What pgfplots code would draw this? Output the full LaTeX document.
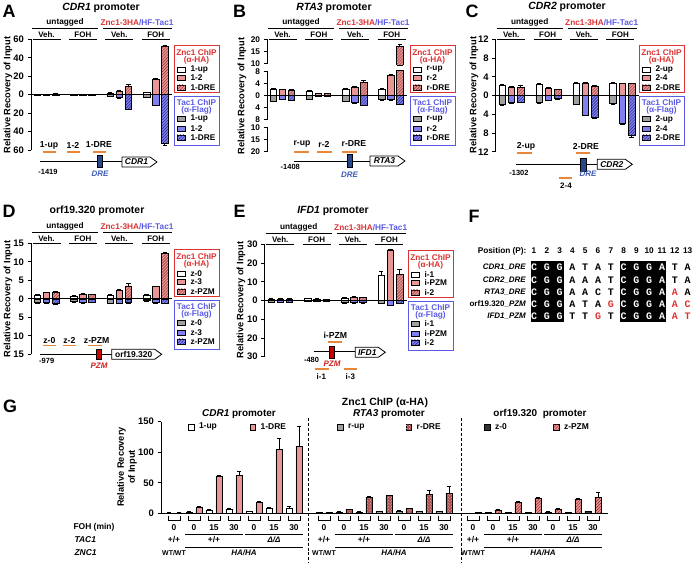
\documentclass[border=0pt]{standalone}
\usepackage{fontspec}
\setmainfont{Liberation Sans}
\newfontfamily\seqfont{Liberation Mono}
\usepackage{pgfplots}
\pgfplotsset{compat=1.18}
\usetikzlibrary{patterns}

\definecolor{pinkc}{RGB}{232,150,150}
\definecolor{hatchred}{RGB}{140,40,40}
\definecolor{grayc}{RGB}{160,160,160}
\definecolor{bluec}{RGB}{128,128,240}
\definecolor{hatchblue}{RGB}{30,30,120}
\definecolor{redtxt}{RGB}{220,50,50}
\definecolor{bluetxt}{RGB}{90,90,230}
\definecolor{orangec}{RGB}{230,135,60}
\definecolor{drebox}{RGB}{40,70,140}
\definecolor{dretxt}{RGB}{60,90,180}
\definecolor{pzmbox}{RGB}{200,0,0}
\definecolor{pzmtxt}{RGB}{210,30,30}
\definecolor{darkc}{RGB}{50,50,50}
\colorlet{W}{white}\colorlet{K}{black}\colorlet{R}{redtxt}

\newcommand{\fs}[1]{\fontsize{#1}{#1}\selectfont}

\tikzset{
 zup/.style={fill=white,draw=black,/pgf/bar shift=0pt},
 ztwo/.style={fill=pinkc,draw=black,/pgf/bar shift=0pt},
 zdre/.style={fill=pinkc,draw=black,postaction={pattern=north east lines,pattern color=hatchred},/pgf/bar shift=0pt},
 tup/.style={fill=grayc,draw=black,/pgf/bar shift=0pt},
 ttwo/.style={fill=bluec,draw=black,/pgf/bar shift=0pt},
 tdre/.style={fill=bluec,draw=black,postaction={pattern=north east lines,pattern color=hatchblue},/pgf/bar shift=0pt},
 rdre/.style={fill=hatchred!65!pinkc,draw=black,postaction={pattern=crosshatch dots,pattern color=pinkc!60!white},/pgf/bar shift=0pt},
 zdark/.style={fill=darkc,draw=black,/pgf/bar shift=0pt},
}
\pgfplotsset{
 EP/.style={error bars/y dir=plus,error bars/y explicit},
 EM/.style={error bars/y dir=minus,error bars/y explicit},
 panel/.style={scale only axis, anchor=south west, xmin=-0.7, xmax=14.8,
  axis x line=none, axis y line*=left, axis line style={-,line width=0.8pt},
  ybar, bar width=0.72, clip=false, tick align=outside, major tick length=3.5bp,
  ytick style={line width=0.8pt,black},
  yticklabel style={font=\bfseries\fs{9.5}},
  every axis plot/.append style={line width=0.6pt},
  error bars/error bar style={line width=0.7pt,black,solid},
  error bars/error mark options={rotate=90,mark size=2.2,line width=0.7pt,black},
 },
}

\newcommand{\hdr}[2]{%
 \node[font=\bfseries\fs{8.3}] at (#1+34,#2-16.5) {untagged};
 \draw[line width=0.8pt] (#1+1,#2-11) -- (#1+67,#2-11);
 \node[font=\bfseries\fs{8.3}] at (#1+106,#2-16.5) {\textcolor{redtxt}{Znc1-3HA}\textcolor{bluetxt}{/HF-Tac1}};
 \draw[line width=0.8pt] (#1+72,#2-11) -- (#1+141,#2-11);
 \foreach \gx/\gt in {15.5/Veh.,51.9/FOH,88.3/Veh.,124.7/FOH}{
   \node[font=\bfseries\fs{8}] at (#1+\gx,#2-5) {\gt};
   \draw[line width=0.8pt] (#1+\gx-14,#2) -- (#1+\gx+14,#2);
 }
}
\newcommand{\lgd}[5]{%
 \draw[redtxt,line width=0.9pt] (#1+143,#2+5.7) rectangle (#1+188,#2+52.7);
 \node[redtxt,font=\bfseries\fs{8.3}] at (#1+165.5,#2+13.2) {Znc1 ChIP};
 \node[redtxt,font=\bfseries\fs{8.3}] at (#1+165.5,#2+21.5) {(α-HA)};
 \draw[zup] (#1+146,#2+27.5) rectangle (#1+154,#2+32.5);
 \node[anchor=west,font=\bfseries\fs{8.3}] at (#1+156,#2+30) {#3};
 \draw[ztwo] (#1+146,#2+36) rectangle (#1+154,#2+41);
 \node[anchor=west,font=\bfseries\fs{8.3}] at (#1+156,#2+38.5) {#4};
 \draw[zdre] (#1+146,#2+45.5) rectangle (#1+154,#2+50.5);
 \node[anchor=west,font=\bfseries\fs{8.3}] at (#1+156,#2+48) {#5};
 \draw[bluetxt,line width=0.9pt] (#1+143,#2+57.4) rectangle (#1+188,#2+105.7);
 \node[bluetxt,font=\bfseries\fs{8.3}] at (#1+165.5,#2+63) {Tac1 ChIP};
 \node[bluetxt,font=\bfseries\fs{8.3}] at (#1+165.5,#2+71.2) {(α-Flag)};
 \draw[tup] (#1+146,#2+77.2) rectangle (#1+154,#2+82.2);
 \node[anchor=west,font=\bfseries\fs{8.3}] at (#1+156,#2+79.7) {#3};
 \draw[ttwo] (#1+146,#2+86.5) rectangle (#1+154,#2+91.5);
 \node[anchor=west,font=\bfseries\fs{8.3}] at (#1+156,#2+89) {#4};
 \draw[tdre] (#1+146,#2+95.5) rectangle (#1+154,#2+100.5);
 \node[anchor=west,font=\bfseries\fs{8.3}] at (#1+156,#2+98) {#5};
}
\newcommand{\ylab}[2]{\node[rotate=90,font=\bfseries\fs{9.3}] at (#1,#2) {Relative Recovery of Input};}
\newcommand{\gene}[5]{% x1 x2 ytop ybot label
 \draw[fill=white,line width=0.8pt] (#1,#3) -- (#2-7,#3) -- (#2,{(#3+#4)/2}) -- (#2-7,#4) -- (#1,#4) -- cycle;
 \node[font=\bfseries\fs{8.5}] at ({(#1+#2)/2-3},{(#3+#4)/2}) {#5};
}
\newcommand{\oseg}[3]{\draw[orangec,line width=2pt] (#1,#3) -- (#2,#3);}
\newcommand{\gfoot}[1]{% section base center
 \foreach \k in {0,...,6}{\draw[line width=0.7pt] ({#1+20*\k-6},515.5) -- ({#1+20*\k-6},520.5) -- ({#1+20*\k+6},520.5) -- ({#1+20*\k+6},515.5);}
 \foreach \dx/\lab in {0/0,20/0,40/15,60/30,80/0,100/15,120/30}{\node[font=\bfseries\fs{8.5}] at (#1+\dx,527.7) {\lab};}
 \node[font=\bfseries\fs{8.5}] at (#1,540) {+/+};
 \draw[line width=0.7pt] (#1+11,534.3) -- (#1+69,534.3);
 \node[font=\bfseries\fs{8.5}] at (#1+40,540) {+/+};
 \draw[line width=0.7pt] (#1+71,534.3) -- (#1+129,534.3);
 \node[font=\bfseries\itshape\fs{8}] at (#1+100,540) {Δ/Δ};
 \node[font=\bfseries\fs{7}] at (#1,553) {WT/WT};
 \draw[line width=0.7pt] (#1+11,547.7) -- (#1+129,547.7);
 \node[font=\bfseries\itshape\fs{8}] at (#1+70,553) {HA/HA};
}

\begin{document}
\begin{tikzpicture}[font=\bfseries\fs{8}]
\path[use as bounding box] (0,0) rectangle (696bp,-566bp);

%% ---------------- Panel A
\begin{axis}[panel, at={(31bp,-150bp)}, width=141bp, height=110.7bp, ymin=-60, ymax=60,
 ytick={-60,-40,-20,0,20,40,60}, yticklabels={60,40,20,0,20,40,60}]
\addplot[zup,EP] coordinates {(0,0.6)+-(0,0.2) (4,0.4)+-(0,0.1) (8,1.8)+-(0,0.3) (12,2.5)+-(0,0.4)};
\addplot[ztwo,EP] coordinates {(1,0.6)+-(0,0.2) (5,0.4)+-(0,0.1) (9,4)+-(0,0.5) (13,17)+-(0,0.5)};
\addplot[zdre,EP] coordinates {(2,0.7)+-(0,0.2) (6,0.5)+-(0,0.1) (10,9)+-(0,2.5) (14,52)+-(0,1.5)};
\addplot[tup,EM] coordinates {(0,-0.6)+-(0,0.2) (4,-0.4)+-(0,0.1) (8,-1.8)+-(0,0.3) (12,-2.5)+-(0,0.4)};
\addplot[ttwo,EM] coordinates {(1,-0.6)+-(0,0.2) (5,-0.4)+-(0,0.1) (9,-3)+-(0,0.5) (13,-11.5)+-(0,0.5)};
\addplot[tdre,EM] coordinates {(2,-0.7)+-(0,0.2) (6,-0.5)+-(0,0.1) (10,-15.5)+-(0,0.5) (14,-53)+-(0,2)};
\draw[line width=0.8pt] (axis cs:-0.7,0) -- (axis cs:14.8,0);
\end{axis}

%% ---------------- Panel B (broken axis: t=v for |v|<=8, else 10.5+0.8(|v|-10))
\begin{axis}[panel, at={(267bp,-151.7bp)}, width=140bp, height=112.4bp, ymin=-18.5, ymax=18.5,
 y axis line style={draw=none},
 yticklabel style={font=\bfseries\fs{8.3},inner ysep=0pt},
 ytick={-18.5,-14.5,-10.5,-8,-4,0,4,8,10.5,14.5,18.5}, yticklabels={20,15,10,8,4,0,4,8,10,15,20}]
\addplot[zup,EP] coordinates {(0,2)+-(0,0.2) (4,1.4)+-(0,0.2) (8,2.2)+-(0,0.2) (12,2)+-(0,0.2)};
\addplot[ztwo,EP] coordinates {(1,1.9)+-(0,0.2) (5,0.6)+-(0,0.1) (9,2.8)+-(0,0.3) (13,6.8)+-(0,0.3)};
\addplot[zdre,EP] coordinates {(2,1.7)+-(0,0.2) (6,0.6)+-(0,0.1) (10,4.2)+-(0,0.8) (14,16.1)+-(0,0.8)};
\addplot[tup,EM] coordinates {(0,-1.8)+-(0,0.2) (4,-1.3)+-(0,0.1) (8,-1.8)+-(0,0.2) (12,-1.3)+-(0,0.2)};
\addplot[ttwo,EM] coordinates {(1,-1.2)+-(0,0.2) (5,-0.3)+-(0,0.1) (9,-2.3)+-(0,0.2) (13,-1.3)+-(0,0.2)};
\addplot[tdre,EM] coordinates {(2,-1.5)+-(0,0.2) (6,-0.3)+-(0,0.1) (10,-3.2)+-(0,0.2) (14,-2.8)+-(0,0.2)};
\fill[white] (axis cs:13.55,8.4) rectangle (axis cs:14.45,10.1);
\draw[line width=0.6pt] (axis cs:13.64,8.4) -- (axis cs:14.36,8.4) (axis cs:13.64,10.1) -- (axis cs:14.36,10.1);
\draw[line width=0.8pt] (axis cs:-0.7,-18.5) -- (axis cs:-0.7,-10.5) (axis cs:-0.7,-8) -- (axis cs:-0.7,8) (axis cs:-0.7,10.5) -- (axis cs:-0.7,18.5);
\draw[line width=0.8pt] (axis cs:-0.7,0) -- (axis cs:14.8,0);
\end{axis}

%% ---------------- Panel C
\begin{axis}[panel, at={(495.7bp,-151.7bp)}, width=143.3bp, height=112.4bp, ymin=-12, ymax=12,
 ytick={-12,-8,-4,0,4,8,12}, yticklabels={12,8,4,0,4,8,12}]
\addplot[zup,EP] coordinates {(0,2.2)+-(0,0.2) (4,2.3)+-(0,0.2) (8,2.7)+-(0,0.2) (12,2.7)+-(0,0.2)};
\addplot[ztwo,EP] coordinates {(1,1.8)+-(0,0.2) (5,1.6)+-(0,0.1) (9,2.6)+-(0,0.2) (13,2.5)+-(0,0.1)};
\addplot[zdre,EP] coordinates {(2,1.8)+-(0,0.3) (6,1.3)+-(0,0.1) (10,2.0)+-(0,0.1) (14,2.5)+-(0,0.2)};
\addplot[tup,EM] coordinates {(0,-1.8)+-(0,0.2) (4,-1.5)+-(0,0.2) (8,-1.8)+-(0,0.1) (12,-1.7)+-(0,0.1)};
\addplot[ttwo,EM] coordinates {(1,-1.5)+-(0,0.1) (5,-1.0)+-(0,0.1) (9,-4.2)+-(0,0.1) (13,-6.0)+-(0,0.1)};
\addplot[tdre,EM] coordinates {(2,-1.4)+-(0,0.1) (6,-0.7)+-(0,0.1) (10,-4.6)+-(0,0.2) (14,-8.6)+-(0,0.3)};
\draw[line width=0.8pt] (axis cs:-0.7,0) -- (axis cs:14.8,0);
\end{axis}

%% ---------------- Panel D
\begin{axis}[panel, at={(31bp,-354.3bp)}, width=141bp, height=111bp, ymin=-15, ymax=15,
 ytick={-15,-10,-5,0,5,10,15}, yticklabels={15,10,5,0,5,10,15}]
\addplot[zup,EP] coordinates {(0,1.0)+-(0,0.1) (4,0.8)+-(0,0.1) (8,1.0)+-(0,0.1) (12,1.0)+-(0,0.1)};
\addplot[ztwo,EP] coordinates {(1,1.7)+-(0,0.1) (5,1.3)+-(0,0.1) (9,2.3)+-(0,0.2) (13,3.3)+-(0,0.2)};
\addplot[zdre,EP] coordinates {(2,1.8)+-(0,0.3) (6,1.2)+-(0,0.1) (10,3.5)+-(0,0.7) (14,12.3)+-(0,0.2)};
\addplot[tup,EM] coordinates {(0,-1.0)+-(0,0.1) (4,-0.8)+-(0,0.1) (8,-1.2)+-(0,0.1) (12,-0.5)+-(0,0.1)};
\addplot[ttwo,EM] coordinates {(1,-1.0)+-(0,0.1) (5,-1.0)+-(0,0.1) (9,-1.1)+-(0,0.1) (13,-1.0)+-(0,0.1)};
\addplot[tdre,EM] coordinates {(2,-1.3)+-(0,0.1) (6,-0.9)+-(0,0.1) (10,-1.0)+-(0,0.1) (14,-1.2)+-(0,0.1)};
\draw[line width=0.8pt] (axis cs:-0.7,0) -- (axis cs:14.8,0);
\end{axis}

%% ---------------- Panel E
\begin{axis}[panel, at={(264.7bp,-356.7bp)}, width=142.3bp, height=112.4bp, ymin=-30, ymax=30,
 ytick={-30,-20,-10,0,10,20,30}, yticklabels={30,20,10,0,10,20,30}]
\addplot[zup,EP] coordinates {(0,0.8)+-(0,0.1) (4,1.0)+-(0,0.1) (8,1.3)+-(0,0.2) (12,13.5)+-(0,2)};
\addplot[ztwo,EP] coordinates {(1,0.8)+-(0,0.1) (5,0.8)+-(0,0.1) (9,1.8)+-(0,0.3) (13,27)+-(0,0.3)};
\addplot[zdre,EP] coordinates {(2,0.8)+-(0,0.1) (6,0.6)+-(0,0.1) (10,1.5)+-(0,0.2) (14,14)+-(0,2.5)};
\addplot[tup,EM] coordinates {(0,-0.8)+-(0,0.1) (4,-0.5)+-(0,0.1) (8,-1.2)+-(0,0.1) (12,-1.5)+-(0,0.1)};
\addplot[ttwo,EM] coordinates {(1,-0.8)+-(0,0.1) (5,-0.5)+-(0,0.1) (9,-1.2)+-(0,0.1) (13,-2.5)+-(0,0.1)};
\addplot[tdre,EM] coordinates {(2,-0.8)+-(0,0.1) (6,-0.5)+-(0,0.1) (10,-1.2)+-(0,0.1) (14,-1.5)+-(0,0.1)};
\draw[line width=0.8pt] (axis cs:-0.7,0) -- (axis cs:14.8,0);
\end{axis}

%% ---------------- Panel G
\begin{axis}[scale only axis, anchor=south west, at={(161bp,-513.3bp)}, width=447bp, height=91.6bp,
 xmin=161, xmax=608, ymin=0, ymax=150, axis x line*=bottom, axis y line*=left,
 axis line style={-,line width=0.8pt}, xtick=\empty, ytick={0,50,100,150}, yticklabels={0,50,100,150},
 tick align=outside, major tick length=3.5bp, ytick style={line width=0.8pt,black},
 yticklabel style={font=\bfseries\fs{9.5}},
 ybar, bar width=6.3, clip=false,
 every axis plot/.append style={line width=0.6pt},
 error bars/error bar style={line width=0.7pt,black,solid},
 error bars/error mark options={rotate=90,mark size=2.2,line width=0.7pt,black}]
\addplot[zup,EP] coordinates {(169,0.5)+-(0,0.3) (189,2)+-(0,0.5) (209,5)+-(0,0.8) (229,7)+-(0,1) (249,3)+-(0,0.5) (269,8)+-(0,1) (289,9)+-(0,2.5)};
\addplot[ztwo,EP] coordinates {(179,0.8)+-(0,0.3) (199,10)+-(0,1) (219,60)+-(0,2) (239,62)+-(0,6) (259,18)+-(0,1) (279,105)+-(0,18) (299,110)+-(0,32)};
\addplot[tup,EP] coordinates {(319,1)+-(0,0.3) (339,2)+-(0,0.5) (359,2)+-(0,0.5) (379,3)+-(0,0.5) (399,4)+-(0,0.5) (419,3)+-(0,0.5) (439,3)+-(0,0.5)};
\addplot[rdre,EP] coordinates {(329,1)+-(0,0.3) (349,6.5)+-(0,0.8) (369,26)+-(0,1) (389,29)+-(0,1) (409,7.6)+-(0,1) (429,31)+-(0,7) (449,33)+-(0,11)};
\addplot[zdark,EP] coordinates {(468,0.5)+-(0,0.2) (488,1)+-(0,0.3) (508,1)+-(0,0.3) (528,1)+-(0,0.3) (548,2)+-(0,0.5) (568,1)+-(0,0.3) (588,3)+-(0,0.5)};
\addplot[zdre,EP] coordinates {(478,1)+-(0,0.3) (498,5.5)+-(0,0.8) (518,18.5)+-(0,1) (538,24.5)+-(0,1.5) (558,7)+-(0,1) (578,23)+-(0,2) (598,26)+-(0,9)};
\end{axis}

%% ---------------- annotations in pixel coordinates
\begin{scope}[x=1bp,y=-1bp]
% panel letters
\foreach \lx/\ly/\lt in {9/11.5/A,239.5/11.5/B,472/11.5/C,9/211.5/D,239.5/211.7/E,474/216.7/F,10/406.7/G}{
  \node[font=\bfseries\fs{18}] at (\lx,\ly) {\lt};}
% titles
\node[font=\bfseries\fs{10.5}] at (101,7.5) {\textit{CDR1} promoter};
\node[font=\bfseries\fs{10.5}] at (334,7.5) {\textit{RTA3} promoter};
\node[font=\bfseries\fs{10.5}] at (567,7) {\textit{CDR2} promoter};
\node[font=\bfseries\fs{10.5}] at (97,210.5) {orf19.320 promoter};
\node[font=\bfseries\fs{10.5}] at (333,210.5) {\textit{IFD1} promoter};
% headers, legends, y labels
\hdr{31}{39.3}\hdr{267}{39.3}\hdr{495.7}{39.3}\hdr{31}{243.3}\hdr{264.7}{244.3}
\lgd{31}{39.3}{1-up}{1-2}{1-DRE}
\lgd{267}{39.3}{r-up}{r-2}{r-DRE}
\lgd{496}{39.3}{2-up}{2-4}{2-DRE}
\lgd{31}{243.3}{z-0}{z-3}{z-PZM}
\lgd{265}{244.3}{i-1}{i-PZM}{i-2}
\ylab{8}{95}\ylab{242}{96}\ylab{474}{95}\ylab{8}{299}\ylab{241}{300}

% diagram A
\node[font=\bfseries\fs{8.7}] at (49,145) {1-up};
\node[font=\bfseries\fs{8.7}] at (73,145) {1-2};
\node[font=\bfseries\fs{8.7}] at (99,145) {1-DRE};
\oseg{43}{56}{151.7}\oseg{67}{80}{151.7}\oseg{93}{106}{151.7}
\draw[line width=0.8pt] (40,161.7) -- (122,161.7);
\draw[fill=drebox,line width=0.6pt] (97,155.5) rectangle (102,167.5);
\gene{122}{157}{157}{167}{\textit{CDR1}}
\node[font=\bfseries\fs{7.5}] at (48,171.7) {-1419};
\node[font=\bfseries\itshape\fs{8}, text=dretxt] at (100,174) {DRE};
% diagram B
\node[font=\bfseries\fs{8.7}] at (302,144) {r-up};
\node[font=\bfseries\fs{8.7}] at (324,144) {r-2};
\node[font=\bfseries\fs{8.7}] at (354,144) {r-DRE};
\oseg{294}{309}{151.7}\oseg{317}{332}{151.7}\oseg{342}{357}{151.7}
\draw[line width=0.8pt] (294,161) -- (370,161);
\draw[fill=drebox,line width=0.6pt] (347,154.5) rectangle (352,167);
\gene{370}{405}{156}{166}{\textit{RTA3}}
\node[font=\bfseries\fs{7.5}] at (290.3,167) {-1408};
\node[font=\bfseries\itshape\fs{8}, text=dretxt] at (349.5,175) {DRE};
% diagram C
\node[font=\bfseries\fs{8.7}] at (526,146.7) {2-up};
\node[font=\bfseries\fs{8.7}] at (586,146.7) {2-DRE};
\oseg{517}{532}{153.3}\oseg{576}{590}{153.3}
\draw[line width=0.8pt] (516,164.3) -- (597.3,164.3);
\draw[fill=drebox,line width=0.6pt] (580.7,158) rectangle (586.3,171);
\gene{597.3}{632.3}{159.3}{169.3}{\textit{CDR2}}
\node[font=\bfseries\fs{7.5}] at (519,172.7) {-1302};
\node[font=\bfseries\itshape\fs{8}, text=dretxt] at (588,173.5) {DRE};
\oseg{559}{572}{178.3}
\node[font=\bfseries\fs{8}] at (566,185.5) {2-4};
% diagram D
\node[font=\bfseries\fs{8.7}] at (49.3,340.7) {z-0};
\node[font=\bfseries\fs{8.7}] at (69.3,340.7) {z-2};
\node[font=\bfseries\fs{8.7}] at (96.7,340.7) {z-PZM};
\oseg{42.7}{56}{345.5}\oseg{62.7}{76}{345.5}\oseg{88.3}{101.7}{345.5}
\draw[line width=0.8pt] (40,354.3) -- (111.7,354.3);
\draw[fill=pzmbox,line width=0.6pt] (96,349) rectangle (101,359.5);
\gene{111.7}{161.7}{349.3}{359.3}{orf19.320}
\node[font=\bfseries\fs{7.5}] at (46.7,361) {-979};
\node[font=\bfseries\itshape\fs{8}, text=pzmtxt] at (99,366) {PZM};
% diagram E
\node[font=\bfseries\fs{8.7}] at (335.3,335.7) {i-PZM};
\oseg{328}{342}{341.7}
\draw[line width=0.8pt] (313.7,351.7) -- (355.3,351.7);
\draw[fill=pzmbox,line width=0.6pt] (329.7,346.7) rectangle (334.3,358.3);
\gene{355.3}{385.3}{347.3}{357.3}{\textit{IFD1}}
\node[font=\bfseries\fs{7.5}] at (311.5,359.5) {-480};
\node[font=\bfseries\itshape\fs{8}, text=pzmtxt] at (332,363.5) {PZM};
\oseg{315.3}{328.7}{369}\oseg{343.7}{357}{369}
\node[font=\bfseries\fs{8}] at (321.3,377) {i-1};
\node[font=\bfseries\fs{8}] at (350.3,377) {i-3};

% panel F
\node[anchor=east,font=\bfseries\fs{8.3}] at (530,251) {Position (P):};
\foreach \i in {1,...,13}{\node[font=\bfseries\fs{8.3}] at ({534+12.8*(\i-1)},251) {\i};}
\fill[black] (530.7,261) rectangle (563.6,322.3);
\fill[black] (619.5,261) rectangle (666.3,322.3);
\node[anchor=east,font=\bfseries\fs{8}] at (529.5,267.7) {\textit{CDR1\_DRE}};
\node[anchor=east,font=\bfseries\fs{8}] at (529.5,279.9) {\textit{CDR2\_DRE}};
\node[anchor=east,font=\bfseries\fs{8}] at (529.5,292.1) {\textit{RTA3\_DRE}};
\node[anchor=east,font=\bfseries\fs{8}] at (529.5,304.3) {orf19.320\_\textit{PZM}};
\node[anchor=east,font=\bfseries\fs{8}] at (529.5,316.5) {\textit{IFD1\_PZM}};
\foreach \cc/\ll [count=\i] in {W/C,W/G,W/G,K/A,K/T,K/A,K/T,W/C,W/G,W/G,W/A,K/T,K/A}{
  \node[text=\cc,font=\seqfont\bfseries\fs{10}] at ({534+12.8*(\i-1)},267.7) {\ll};}
\foreach \cc/\ll [count=\i] in {W/C,W/G,W/G,K/A,K/A,K/A,K/T,W/C,W/G,W/G,W/A,K/T,K/A}{
  \node[text=\cc,font=\seqfont\bfseries\fs{10}] at ({534+12.8*(\i-1)},279.9) {\ll};}
\foreach \cc/\ll [count=\i] in {W/C,W/G,W/G,K/A,K/A,K/C,K/T,W/C,W/G,W/G,W/A,R/A,K/A}{
  \node[text=\cc,font=\seqfont\bfseries\fs{10}] at ({534+12.8*(\i-1)},292.1) {\ll};}
\foreach \cc/\ll [count=\i] in {W/C,W/G,W/G,K/A,K/T,K/A,R/G,W/C,W/G,W/G,W/A,R/A,R/C}{
  \node[text=\cc,font=\seqfont\bfseries\fs{10}] at ({534+12.8*(\i-1)},304.3) {\ll};}
\foreach \cc/\ll [count=\i] in {W/C,W/G,W/G,K/T,K/T,R/G,K/T,W/C,W/G,W/G,W/A,R/A,R/T}{
  \node[text=\cc,font=\seqfont\bfseries\fs{10}] at ({534+12.8*(\i-1)},316.5) {\ll};}

% panel G annotations
\node[font=\bfseries\fs{10.5}] at (385,403) {Znc1 ChIP (α-HA)};
\node[font=\bfseries\fs{10}] at (239,414) {\textit{CDR1} promoter};
\node[font=\bfseries\fs{10}] at (389,414) {\textit{RTA3} promoter};
\node[font=\bfseries\fs{10}] at (540,414) {orf19.320\ \ promoter};
\draw[zup] (188.3,424.2) rectangle (193.8,429.7); \node[anchor=west,font=\bfseries\fs{8.5}] at (195.5,426.9) {1-up};
\draw[ztwo] (250,424.2) rectangle (255.5,429.7); \node[anchor=west,font=\bfseries\fs{8.5}] at (257.2,426.9) {1-DRE};
\draw[tup] (337.3,424.2) rectangle (342.8,429.7); \node[anchor=west,font=\bfseries\fs{8.5}] at (344.5,426.9) {r-up};
\draw[rdre] (406,424.2) rectangle (411.5,429.7); \node[anchor=west,font=\bfseries\fs{8.5}] at (413.2,426.9) {r-DRE};
\draw[zdark] (484.3,424.2) rectangle (489.8,429.7); \node[anchor=west,font=\bfseries\fs{8.5}] at (491.5,426.9) {z-0};
\draw[zdre] (553.3,424.2) rectangle (558.8,429.7); \node[anchor=west,font=\bfseries\fs{8.5}] at (560.5,426.9) {z-PZM};
\node[rotate=90,align=center,font=\bfseries\fontsize{9.3}{11}\selectfont] at (127,467) {Relative Recovery\\of Input};
\draw[densely dashed,line width=0.8pt] (308.5,418) -- (308.5,563);
\draw[densely dashed,line width=0.8pt] (461,418) -- (461,563);
\gfoot{174}\gfoot{324}\gfoot{473}
\node[anchor=west,font=\bfseries\fs{8.5}] at (70,527.7) {FOH (min)};
\node[anchor=west,font=\bfseries\itshape\fs{8.5}] at (71,540) {TAC1};
\node[anchor=west,font=\bfseries\itshape\fs{8.5}] at (71,553) {ZNC1};
\end{scope}
\end{tikzpicture}
\end{document}
